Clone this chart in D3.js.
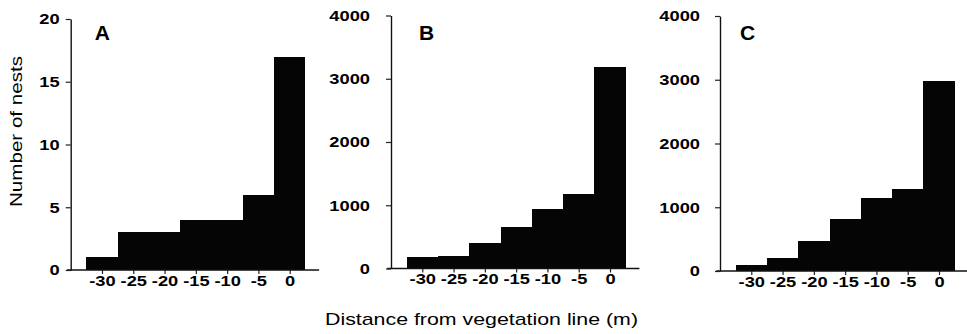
<!DOCTYPE html>
<html>
<head>
<meta charset="utf-8">
<script src="https://cdn.jsdelivr.net/npm/d3@7"></script>
<style>
  html, body { margin: 0; padding: 0; background: #fff; }
  svg { display: block; font-family: "Liberation Sans", Arial, sans-serif; }
</style>
</head>
<body>
<svg id="chart" width="967" height="334"></svg>
<script>
// ---- data ----
const binCenters = [-30, -25, -20, -15, -10, -5, 0];
const nestsA = [1, 3, 3, 4, 4, 6, 17];
const nestsB = [188, 198, 408, 656, 936, 1178, 3180];
const nestsC = [94, 199, 475, 816, 1145, 1286, 2980];
const panelLabels = ["A", "B", "C"];
const yMaxes = [20, 4000, 4000];
const yTicksA = [0, 5, 10, 15, 20];
const yTicksBC = [0, 1000, 2000, 3000, 4000];
const xTicks = [-30, -25, -20, -15, -10, -5, 0];
const yTitle = "Number of nests";
const xTitle = "Distance from vegetation line (m)";

// ---- layout ----
const panels = [
  { values: nestsA, yTicks: yTicksA, axisX: 70.7, y0: 270, yTop: 19, labelDx: 24, yLabelGap: 11 },
  { values: nestsB, yTicks: yTicksBC, axisX: 391, y0: 268.5, yTop: 15.5, labelDx: 28, yLabelGap: 21 },
  { values: nestsC, yTicks: yTicksBC, axisX: 720, y0: 271, yTop: 16, labelDx: 20, yLabelGap: 20 }
];
const plotW = 219;      // width from x=-35 to x=0
const binW = 5;
const sx = 1.22;        // horizontal stretch of the scanned lettering

const svg = d3.select("#chart");

panels.forEach((p, i) => {
  const x = d3.scaleLinear().domain([-35, 0]).range([p.axisX, p.axisX + plotW]);
  const y = d3.scaleLinear().domain([0, yMaxes[i]]).range([p.y0, p.yTop]);
  const g = svg.append("g");

  // bars (crisp edges so adjacent bars merge without seams)
  g.selectAll("rect.bar")
    .data(binCenters.map((c, k) => ({ c, v: p.values[k] })))
    .join("rect")
    .attr("class", "bar")
    .attr("x", d => Math.round(x(d.c - binW / 2)))
    .attr("width", d => Math.round(x(d.c + binW / 2)) - Math.round(x(d.c - binW / 2)))
    .attr("y", d => Math.round(y(d.v)))
    .attr("height", d => Math.round(y(0)) - Math.round(y(d.v)))
    .attr("fill", "#050505")
    .attr("shape-rendering", "crispEdges");

  // x axis
  const xAxis = d3.axisBottom(x).tickValues(xTicks).tickSize(4).tickPadding(1)
    .tickSizeOuter(0).tickFormat(d3.format("d"));
  const gx = g.append("g").attr("transform", `translate(0,${p.y0})`).call(xAxis);
  gx.select(".domain").remove();
  gx.append("line")
    .attr("x1", x(-35.6)).attr("x2", x(4.7))
    .attr("y1", 0).attr("y2", 0)
    .attr("stroke", "#111").attr("stroke-width", 1.4);
  gx.selectAll(".tick line").attr("stroke", "#222").attr("stroke-width", 1.2);
  gx.selectAll(".tick text")
    .attr("fill", "#000")
    .style("font-size", "15px").style("font-weight", "bold")
    .attr("transform", `scale(${sx},1)`)
    .text(d => d < 0 ? "-" + Math.abs(d) : d);

  // y axis
  const yAxis = d3.axisLeft(y).tickValues(p.yTicks).tickSize(5).tickPadding(6)
    .tickSizeOuter(0).tickFormat(d3.format("d"));
  const gy = g.append("g").attr("transform", `translate(${p.axisX},0)`).call(yAxis);
  gy.select(".domain").attr("stroke", "#111").attr("stroke-width", 1.4);
  gy.selectAll(".tick line").attr("stroke", "#222").attr("stroke-width", 1.2);
  gy.selectAll(".tick text")
    .attr("fill", "#000")
    .attr("x", -p.yLabelGap / sx)
    .style("font-size", "15px").style("font-weight", "bold")
    .attr("transform", `scale(${sx},1)`);

  // panel label
  g.append("text")
    .attr("x", p.axisX + p.labelDx)
    .attr("y", 40)
    .style("font-size", "21px").style("font-weight", "bold")
    .attr("fill", "#000")
    .text(panelLabels[i]);
});

// axis titles
svg.append("text")
  .attr("transform", "translate(22,131.5) rotate(-90)")
  .attr("text-anchor", "middle")
  .attr("textLength", 151).attr("lengthAdjust", "spacingAndGlyphs")
  .style("font-size", "17px")
  .attr("fill", "#000")
  .text(yTitle);

svg.append("text")
  .attr("x", 481.5).attr("y", 325)
  .attr("text-anchor", "middle")
  .attr("textLength", 313).attr("lengthAdjust", "spacingAndGlyphs")
  .style("font-size", "17px")
  .attr("fill", "#000")
  .text(xTitle);
</script>
</body>
</html>
